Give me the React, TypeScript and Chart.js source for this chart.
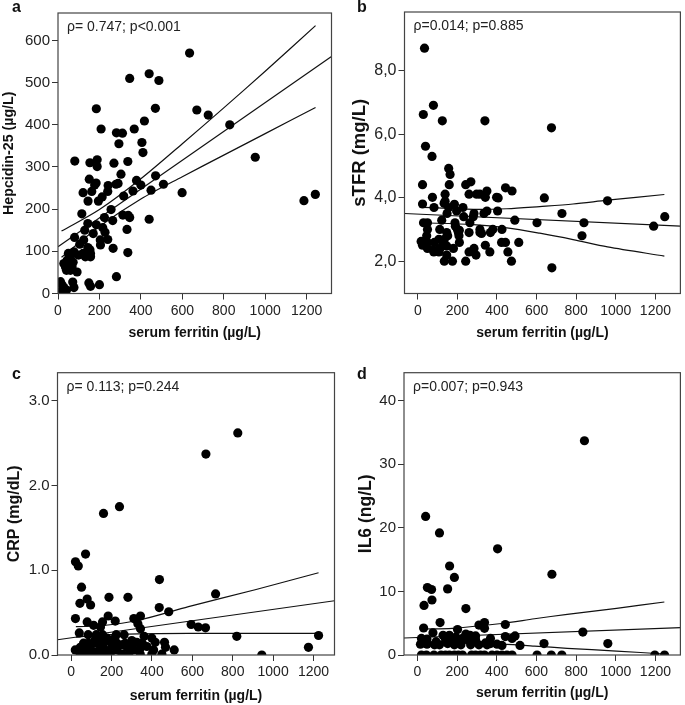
import React, { useEffect, useRef } from 'react';
import { Chart, registerables } from 'chart.js';

Chart.register(...registerables);

const FONT = 'Arial, "Liberation Sans", Helvetica, sans-serif';

// ---------------- DATA ----------------
const xTickValues = [0, 200, 400, 600, 800, 1000, 1200];

// Panel a: serum ferritin vs Hepcidin-25
const hepcidinPoints: [number, number][] = [
  [635, 570], [440, 521], [487, 505], [346, 510], [185, 438], [470, 439], [670, 435], [725, 423],
  [208, 390], [368, 390], [417, 409], [829, 400], [282, 381], [311, 380], [294, 355], [405, 358],
  [410, 334], [952, 323], [81, 314], [154, 310], [189, 317], [189, 301], [270, 309], [337, 313],
  [304, 283], [379, 268], [471, 279], [151, 271], [184, 262], [177, 257], [163, 242], [121, 239],
  [242, 256], [240, 242], [290, 261], [280, 259], [213, 229], [195, 219], [145, 219], [317, 231],
  [362, 243], [400, 257], [449, 245], [509, 259], [599, 239], [256, 199], [115, 189], [224, 180],
  [313, 186], [339, 185], [346, 180], [264, 173], [440, 176], [144, 166], [185, 163], [129, 150],
  [216, 156], [227, 145], [170, 142], [333, 152], [80, 133], [124, 127], [240, 128], [105, 117],
  [205, 115], [144, 109], [154, 104], [137, 97], [266, 107], [121, 95], [157, 95], [204, 127],
  [337, 97], [157, 87], [132, 87], [50, 95], [77, 99], [99, 91], [61, 89], [28, 71], [44, 79],
  [36, 63], [52, 67], [73, 74], [41, 55], [92, 51], [68, 63], [60, 55], [282, 40], [149, 25],
  [157, 17], [200, 21], [12, 28], [20, 20], [28, 14], [41, 8], [71, 27], [77, 14], [20, 8],
  [1187, 220], [1242, 235],
];
const hepcidinFit: [number, number][] = [[0, 111], [1320, 562]];
const hepcidinUpper: [number, number][] = [[17, 148], [200, 199], [400, 272], [600, 355], [800, 440], [1000, 527], [1243, 635]];
const hepcidinLower: [number, number][] = [[17, 86], [200, 159], [400, 224], [600, 277], [800, 328], [1000, 379], [1243, 441]];
const hepcidinTicks = [0, 100, 200, 300, 400, 500, 600];

// Panel b: serum ferritin vs sTFR
const stfrPoints: [number, number][] = [
  [34, 8.71], [28, 6.62], [79, 6.91], [124, 6.42], [339, 6.42], [675, 6.2], [39, 5.62], [72, 5.3],
  [156, 4.92], [163, 4.73], [159, 4.41], [24, 4.41], [242, 4.41], [268, 4.5], [443, 4.31], [476, 4.21],
  [349, 4.21], [138, 4.11], [259, 4.11], [297, 4.11], [314, 4.11], [341, 4.01], [398, 4.01], [406, 3.99],
  [639, 3.99], [74, 4.01], [24, 3.8], [138, 3.89], [133, 3.82], [185, 3.79], [82, 3.69], [156, 3.69],
  [228, 3.69], [196, 3.58], [349, 3.58], [403, 3.58], [958, 3.9], [728, 3.5], [148, 3.5], [284, 3.5],
  [280, 3.4], [232, 3.4], [334, 3.5], [490, 3.29], [602, 3.21], [839, 3.21], [1191, 3.1], [1247, 3.4],
  [121, 3.29], [29, 3.21], [49, 3.21], [188, 3.21], [263, 3.21], [190, 3.1], [200, 3.0], [205, 2.9],
  [314, 3.0], [425, 3.0], [367, 2.9], [379, 3.0], [208, 2.8], [49, 3.0], [45, 2.8], [111, 3.0],
  [146, 2.9], [151, 2.8], [107, 2.69], [134, 2.69], [129, 2.59], [84, 2.59], [49, 2.59], [17, 2.62],
  [24, 2.5], [49, 2.4], [79, 2.35], [112, 2.4], [146, 2.48], [180, 2.4], [210, 2.59], [259, 2.9],
  [314, 2.9], [341, 2.5], [364, 2.29], [259, 2.29], [284, 2.4], [294, 2.19], [423, 2.59], [443, 2.59],
  [455, 2.29], [510, 2.59], [829, 2.8], [473, 2.0], [242, 2.0], [134, 2.0], [175, 2.0], [146, 2.19],
  [677, 1.79], [81, 2.29], [107, 2.29], [210, 2.97], [322, 2.87],
];
const stfrFit: [number, number][] = [[-67, 3.5], [1326, 3.1]];
const stfrUpper: [number, number][] = [[12, 3.7], [280, 3.63], [450, 3.65], [616, 3.72], [784, 3.8], [958, 3.92], [1245, 4.1]];
const stfrLower: [number, number][] = [[12, 3.21], [280, 3.15], [450, 3.05], [616, 2.88], [784, 2.68], [958, 2.45], [1245, 2.16]];
const stfrTicks = [2, 4, 6, 8];

// Panel c: serum ferritin vs CRP
const crpPoints: [number, number][] = [
  [825, 2.62], [667, 2.37], [239, 1.75], [160, 1.67], [71, 1.19], [21, 1.1], [35, 1.05], [437, 0.89],
  [51, 0.8], [79, 0.66], [43, 0.61], [96, 0.59], [187, 0.68], [281, 0.68], [715, 0.72], [436, 0.56],
  [483, 0.51], [594, 0.36], [629, 0.33], [665, 0.32], [183, 0.46], [343, 0.46], [21, 0.43], [310, 0.43],
  [79, 0.39], [155, 0.39], [218, 0.4], [330, 0.37], [111, 0.35], [145, 0.33], [343, 0.31], [40, 0.26],
  [84, 0.24], [124, 0.24], [155, 0.24], [223, 0.24], [262, 0.24], [820, 0.22], [1225, 0.23], [1175, 0.09],
  [944, 0.0], [361, 0.22], [399, 0.2], [216, 0.2], [144, 0.18], [193, 0.16], [86, 0.14], [119, 0.18],
  [300, 0.17], [325, 0.15], [462, 0.15], [467, 0.09], [510, 0.06], [408, 0.06], [399, 0.01], [449, 0.01],
  [20, 0.06], [45, 0.09], [61, 0.04], [94, 0.11], [78, 0.08], [144, 0.07], [111, 0.04], [168, 0.06],
  [201, 0.1], [226, 0.06], [251, 0.12], [276, 0.09], [308, 0.06], [342, 0.08], [375, 0.1], [94, 0.01],
  [127, 0.01], [160, 0.01], [193, 0.01], [251, 0.01], [284, 0.01], [342, 0.01], [157, 0.12], [226, 0.14],
  [45, 0.01], [300, 0.1], [127, 0.14], [177, 0.2], [61, 0.14], [352, 0.14], [267, 0.14], [416, 0.15],
];
const crpFit: [number, number][] = [[-68, 0.18], [1304, 0.64]];
const crpUpper: [number, number][] = [[23, 0.334], [150, 0.345], [333, 0.41], [581, 0.57], [911, 0.77], [1225, 0.97]];
const crpLower: [number, number][] = [[23, 0.21], [150, 0.235], [333, 0.25], [581, 0.255], [911, 0.255], [1225, 0.255]];
const crpTicks = [0, 1, 2, 3];

// Panel d: serum ferritin vs IL6
const il6Points: [number, number][] = [
  [842, 33.7], [41, 21.8], [111, 19.2], [404, 16.7], [162, 14.0], [186, 12.2], [678, 12.7], [50, 10.6],
  [71, 10.3], [152, 10.4], [73, 8.65], [33, 7.8], [244, 7.3], [114, 5.1], [338, 5.1], [443, 4.8],
  [31, 4.25], [310, 4.7], [338, 4.2], [202, 4.0], [78, 3.5], [834, 3.6], [244, 3.3], [129, 3.1],
  [161, 3.1], [265, 3.1], [293, 3.0], [492, 3.0], [443, 2.9], [20, 2.6], [48, 2.5], [141, 2.5],
  [194, 2.8], [227, 2.6], [368, 2.6], [477, 2.6], [15, 1.7], [48, 1.7], [86, 1.6], [111, 1.6],
  [152, 1.8], [186, 1.6], [219, 1.6], [268, 1.6], [310, 1.6], [351, 1.6], [401, 1.7], [426, 1.5],
  [517, 1.5], [638, 1.8], [960, 1.8], [177, 2.1], [277, 2.1], [343, 1.9], [252, 2.4], [161, 2.4],
  [94, 2.1], [293, 2.4], [202, 2.2], [368, 1.8],
  [20, 0], [45, 0], [83, 0], [119, 0], [141, 0], [161, 0], [186, 0], [206, 0], [227, 0], [273, 0],
  [293, 0], [318, 0], [338, 0], [376, 0], [401, 0], [426, 0], [451, 0], [477, 0], [603, 0], [675, 0],
  [728, 0], [1197, 0], [1246, 0],
];
const il6Fit: [number, number][] = [[-73, 2.67], [1328, 4.3]];
const il6Upper: [number, number][] = [[30, 4.09], [176, 4.2], [424, 4.95], [590, 5.7], [755, 6.4], [1004, 7.34], [1245, 8.34]];
const il6Lower: [number, number][] = [[30, 2.1], [176, 1.95], [424, 1.7], [590, 1.4], [755, 1.05], [1004, 0.62], [1245, 0.16]];
const il6Ticks = [0, 10, 20, 30, 40];

// ---------------- PANELS ----------------
type Pair = [number, number];
interface PanelCfg {
  left: number; top: number; width: number; height: number;
  area: { l: number; t: number; r: number; b: number };
  xMin: number; xMax: number; yMin: number; yMax: number;
  yTicks: number[]; yFmt: (v: number) => string; yTickSize: number;
  yTitle: string; yTitleSize: number; yTitlePad: number; xTitlePad: number;
  letter: string; letterX: number; letterY: number; stat: string;
  points: Pair[]; fit: Pair[]; upper: Pair[]; lower: Pair[];
}

const panels: PanelCfg[] = [
  {
    left: 0, top: 0, width: 340, height: 350, area: { l: 58, t: 13, r: 331.5, b: 293.5 },
    xMin: 0, xMax: 1320, yMin: 0, yMax: 665, yTicks: hepcidinTicks, yFmt: (v) => String(v), yTickSize: 15,
    yTitle: 'Hepcidin-25 (µg/L)', yTitleSize: 14.2, yTitlePad: 2.1, xTitlePad: 10,
    letter: 'a', letterX: 12, letterY: 12, stat: 'ρ= 0.747; p<0.001',
    points: hepcidinPoints, fit: hepcidinFit, upper: hepcidinUpper, lower: hepcidinLower,
  },
  {
    left: 340, top: 0, width: 345, height: 350, area: { l: 64.5, t: 12, r: 341, b: 293.5 },
    xMin: -67, xMax: 1326, yMin: 0.98, yMax: 9.85, yTicks: stfrTicks, yFmt: (v) => v.toFixed(1).replace('.', ','), yTickSize: 16,
    yTitle: 'sTFR (mg/L)', yTitleSize: 18.5, yTitlePad: 11, xTitlePad: 10,
    letter: 'b', letterX: 17, letterY: 12, stat: 'ρ=0.014; p=0.885',
    points: stfrPoints, fit: stfrFit, upper: stfrUpper, lower: stfrLower,
  },
  {
    left: 0, top: 350, width: 340, height: 355, area: { l: 57.5, t: 22.7, r: 334.5, b: 305 },
    xMin: -68, xMax: 1304, yMin: 0, yMax: 3.33, yTicks: crpTicks, yFmt: (v) => v.toFixed(1), yTickSize: 15,
    yTitle: 'CRP (mg/dL)', yTitleSize: 16, yTitlePad: 7, xTitlePad: 1.5,
    letter: 'c', letterX: 12, letterY: 29.3, stat: 'ρ= 0.113; p=0.244',
    points: crpPoints, fit: crpFit, upper: crpUpper, lower: crpLower,
  },
  {
    left: 340, top: 350, width: 345, height: 355, area: { l: 64, t: 22.7, r: 344, b: 305 },
    xMin: -68, xMax: 1326, yMin: 0, yMax: 44.4, yTicks: il6Ticks, yFmt: (v) => String(v), yTickSize: 15,
    yTitle: 'IL6 (ng/L)', yTitleSize: 17.5, yTitlePad: 17, xTitlePad: 4.5,
    letter: 'd', letterX: 17, letterY: 29.3, stat: 'ρ=0.007; p=0.943',
    points: il6Points, fit: il6Fit, upper: il6Upper, lower: il6Lower,
  },
];

const toXY = (arr: Pair[]) => arr.map(([x, y]) => ({ x, y }));

function Panel({ cfg }: { cfg: PanelCfg }) {
  const ref = useRef<HTMLCanvasElement | null>(null);
  useEffect(() => {
    if (!ref.current) return;
    const decor = {
      id: 'decor',
      afterDraw(chart: any) {
        const { ctx, chartArea: a } = chart;
        ctx.save();
        ctx.strokeStyle = '#444';
        ctx.lineWidth = 1.2;
        ctx.strokeRect(a.left, a.top, a.right - a.left, a.bottom - a.top);
        ctx.fillStyle = '#111';
        ctx.textAlign = 'left';
        ctx.textBaseline = 'alphabetic';
        ctx.font = `bold 16px ${FONT}`;
        ctx.fillText(cfg.letter, cfg.letterX, cfg.letterY);
        ctx.fillStyle = '#222';
        ctx.font = `14px ${FONT}`;
        ctx.fillText(cfg.stat, a.left + 9, a.top + 18);
        ctx.restore();
      },
    };
    const lineDs = (data: Pair[], tension: number) => ({
      data: toXY(data),
      showLine: true,
      pointRadius: 0,
      borderColor: '#111',
      borderWidth: 1.2,
      tension,
      fill: false,
    });
    const chart = new Chart(ref.current, {
      type: 'scatter',
      data: {
        datasets: [
          {
            data: toXY(cfg.points),
            pointRadius: 4.6,
            pointBackgroundColor: '#000',
            pointBorderWidth: 0,
            showLine: false,
            clip: 0,
          } as any,
          lineDs(cfg.fit, 0),
          lineDs(cfg.upper, 0.3),
          lineDs(cfg.lower, 0.3),
        ],
      },
      options: {
        responsive: false,
        animation: false,
        events: [],
        layout: { padding: { top: cfg.area.t, right: cfg.width - cfg.area.r, left: 0, bottom: 0 } },
        plugins: { legend: { display: false }, tooltip: { enabled: false } },
        scales: {
          x: {
            type: 'linear',
            min: cfg.xMin,
            max: cfg.xMax,
            afterBuildTicks: (s: any) => { s.ticks = xTickValues.map((v) => ({ value: v })); },
            afterFit: (s: any) => { s.height = cfg.height - cfg.area.b; },
            grid: { display: true, drawOnChartArea: false, drawTicks: true, tickLength: 6, color: '#333', lineWidth: 1 },
            border: { display: false },
            ticks: {
              font: { family: FONT, size: 14 }, color: '#222', padding: 3, maxRotation: 0, autoSkip: false,
              callback: (v: any) => String(v),
            },
            title: {
              display: true, text: 'serum ferritin (µg/L)', color: '#111',
              font: { family: FONT, size: 14, weight: 'bold', lineHeight: 1 },
              padding: { top: 0, bottom: cfg.xTitlePad },
            },
          },
          y: {
            type: 'linear',
            min: cfg.yMin,
            max: cfg.yMax,
            afterBuildTicks: (s: any) => { s.ticks = cfg.yTicks.map((v) => ({ value: v })); },
            afterFit: (s: any) => { s.width = cfg.area.l; },
            grid: { display: true, drawOnChartArea: false, drawTicks: true, tickLength: 6, color: '#333', lineWidth: 1 },
            border: { display: false },
            ticks: {
              font: { family: FONT, size: cfg.yTickSize }, color: '#222', padding: 2, autoSkip: false,
              callback: (v: any) => cfg.yFmt(Number(v)),
            },
            title: {
              display: true, text: cfg.yTitle, color: '#111',
              font: { family: FONT, size: cfg.yTitleSize, weight: 'bold', lineHeight: 1 },
              padding: { top: cfg.yTitlePad, bottom: 0 },
            },
          },
        },
      } as any,
      plugins: [decor],
    });
    return () => chart.destroy();
  }, [cfg]);
  return (
    <div style={{ position: 'absolute', left: cfg.left, top: cfg.top, width: cfg.width, height: cfg.height }}>
      <canvas ref={ref} width={cfg.width} height={cfg.height} style={{ display: 'block' }} />
    </div>
  );
}

export default function App() {
  return (
    <div style={{ position: 'absolute', left: 0, top: 0, width: 685, height: 705, background: '#fff' }}>
      {panels.map((p) => (
        <Panel key={p.letter} cfg={p} />
      ))}
    </div>
  );
}
